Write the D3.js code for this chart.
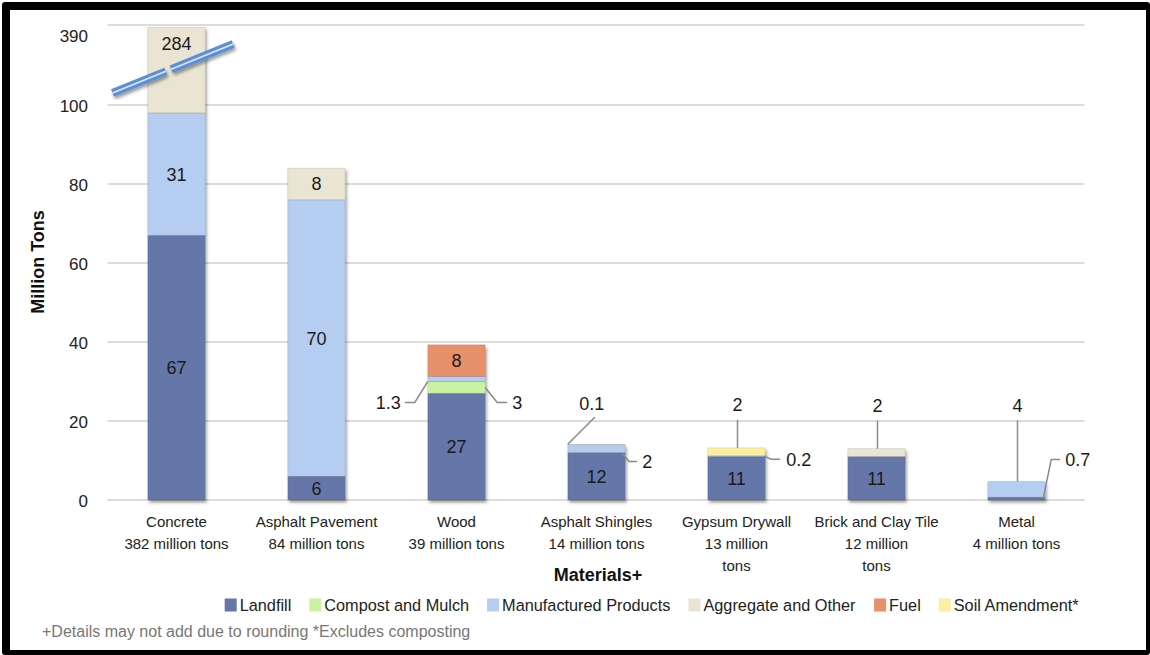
<!DOCTYPE html>
<html>
<head>
<meta charset="utf-8">
<script src="https://cdn.jsdelivr.net/npm/d3@7/dist/d3.min.js"></script>
<style>
  html, body { margin: 0; padding: 0; background: #fff; }
  svg { display: block; font-family: "Liberation Sans", Arial, sans-serif; }
</style>
</head>
<body>
<svg id="chart" width="1150" height="655"></svg>
<script>
// C&D debris next use, by material (million tons)
const categories = ["Concrete", "Asphalt Pavement", "Wood", "Asphalt Shingles",
                    "Gypsum Drywall", "Brick and Clay Tile", "Metal"];
const categoryLines = [
  ["Concrete", "382 million tons"],
  ["Asphalt Pavement", "84 million tons"],
  ["Wood", "39 million tons"],
  ["Asphalt Shingles", "14 million tons"],
  ["Gypsum Drywall", "13 million", "tons"],
  ["Brick and Clay Tile", "12 million", "tons"],
  ["Metal", "4 million tons"]
];
const seriesNames = ["Landfill", "Compost and Mulch", "Manufactured Products",
                     "Aggregate and Other", "Fuel", "Soil Amendment*"];
const landfill     = [67, 6, 27, 12, 11, 11, 0.7];
const compost      = [0, 0, 3, 0, 0, 0, 0];
const manufactured = [31, 70, 1.3, 2, 0.2, 0, 4];
const aggregate    = [284, 8, 0, 0.1, 0, 2, 0];
const fuel         = [0, 0, 8, 0, 0, 0, 0];
const soil         = [0, 0, 0, 0, 2, 0, 0];
const yTicks = [0, 20, 40, 60, 80, 100, 390];

const seriesValues = [landfill, compost, manufactured, aggregate, fuel, soil];
const colors = ["#6576a9", "#c9f3a3", "#b4cdf1", "#eae5d3", "#e6916a", "#fcefa2"];

const rows = categories.map((c, i) => {
  const r = { category: c };
  seriesNames.forEach((s, j) => r[s] = seriesValues[j][i]);
  return r;
});

const svg = d3.select("#chart");

// frame
svg.append("rect").attr("x", 2).attr("y", 2).attr("width", 1148).attr("height", 653)
  .attr("rx", 3).attr("fill", "#000");
svg.append("rect").attr("x", 10).attr("y", 10).attr("width", 1136).attr("height", 640)
  .attr("fill", "#fff");

const defs = svg.append("defs");
defs.append("filter").attr("id", "shadow").attr("x", "-20%").attr("y", "-20%")
  .attr("width", "150%").attr("height", "150%")
  .append("feDropShadow").attr("dx", 1.5).attr("dy", 2.5).attr("stdDeviation", 1.6)
  .attr("flood-color", "#000").attr("flood-opacity", 0.38);

const plot = { left: 106.5, right: 1086.5 };

// broken value axis: 0–100 full scale, 100–390 compressed
const y = d3.scaleLinear().domain([0, 100, 390]).range([500, 105, 25]);
const x = d3.scaleBand().domain(categories).range([plot.left, plot.right])
  .paddingInner(0.59).paddingOuter(0.295);

// gridlines
svg.append("g").selectAll("line").data(yTicks).join("line")
  .attr("x1", plot.left + 1).attr("x2", plot.right - 2)
  .attr("y1", d => y(d)).attr("y2", d => y(d))
  .attr("stroke", "#dcdcdc").attr("stroke-width", 2);

// y axis labels
const yAxis = d3.axisLeft(y).tickValues(yTicks).tickSize(0).tickPadding(0)
  .tickFormat(d3.format("d"));
const yg = svg.append("g").attr("transform", "translate(88,0)").call(yAxis);
yg.select(".domain").remove();
yg.selectAll("text").attr("font-size", 17).attr("fill", "#222")
  .attr("font-family", "Liberation Sans, Arial, sans-serif")
  .attr("dy", d => d === 390 ? "0.95em" : "0.38em");

svg.append("text").attr("transform", "translate(44,262) rotate(-90)")
  .attr("text-anchor", "middle").attr("font-size", 18).attr("font-weight", "bold")
  .attr("fill", "#111").text("Million Tons");

// stacked bars
const stacked = d3.stack().keys(seriesNames)(rows);
const barGroups = svg.append("g").selectAll("g").data(categories).join("g")
  .attr("filter", "url(#shadow)");
barGroups.each(function (cat, ci) {
  const g = d3.select(this);
  stacked.forEach((layer, si) => {
    const d = layer[ci];
    if (d[1] - d[0] <= 0) return;
    g.append("rect")
      .attr("x", x(cat)).attr("width", x.bandwidth())
      .attr("y", y(d[1])).attr("height", y(d[0]) - y(d[1]))
      .attr("fill", colors[si])
      .attr("stroke", "rgba(0,0,0,0.12)").attr("stroke-width", 0.8);
  });
});

// axis break marker across the concrete bar
(function () {
  const x0 = plot.left + 6, y0 = y(100) - 12;
  const x1 = x(categories[0]) + x.bandwidth() + 28, y1 = y(100) - 61;
  const t = (x(categories[0]) + x.bandwidth() / 2 - x0 - 8) / (x1 - x0);
  const gap = 0.022;
  const segs = [[0, t - gap], [t + gap, 1]].map(([a, b]) => [
    [x0 + (x1 - x0) * a, y0 + (y1 - y0) * a],
    [x0 + (x1 - x0) * b, y0 + (y1 - y0) * b]
  ]);
  const bg = svg.append("g");
  segs.forEach(s => {
    bg.append("line").attr("x1", s[0][0]).attr("y1", s[0][1]).attr("x2", s[1][0]).attr("y2", s[1][1])
      .attr("stroke", "#5b8fd5").attr("stroke-width", 8).attr("filter", "url(#shadow)");
    bg.append("line").attr("x1", s[0][0]).attr("y1", s[0][1]).attr("x2", s[1][0]).attr("y2", s[1][1])
      .attr("stroke", "#dfe9f7").attr("stroke-width", 1.6);
  });
})();

// value labels inside large segments
const inside = svg.append("g").attr("font-size", 18).attr("fill", "#1a1a1a")
  .attr("text-anchor", "middle");
stacked.forEach((layer, si) => {
  layer.forEach((d, ci) => {
    const v = d[1] - d[0];
    if (v < 5) return;
    const cx = x(categories[ci]) + x.bandwidth() / 2;
    const cy = d[1] > 100 ? y(d[1]) + 16 : (y(d[0]) + y(d[1])) / 2;
    inside.append("text").attr("x", cx).attr("y", cy).attr("dy", "0.36em")
      .text(d3.format("~g")(Math.round(v * 10) / 10));
  });
});

// leader-line callouts for thin segments
const layerOf = name => stacked[seriesNames.indexOf(name)];
const callouts = [
  { cat: "Wood", key: "Manufactured Products", edge: "left", at: 0, pts: [[0, 0], [-13, 21], [-23, 21]], txt: [-27, 21], anchor: "end" },
  { cat: "Wood", key: "Compost and Mulch", edge: "right", at: 0.5, pts: [[0, 0], [12, 15], [22, 15]], txt: [27, 15], anchor: "start" },
  { cat: "Asphalt Shingles", key: "Aggregate and Other", edge: "left", at: 1, pts: [[0, 0], [27, -27]], txt: [24, -41], anchor: "middle" },
  { cat: "Asphalt Shingles", key: "Manufactured Products", edge: "right", at: 0, pts: [[-2, 2], [4, 9], [12, 9]], txt: [17, 9], anchor: "start" },
  { cat: "Gypsum Drywall", key: "Soil Amendment*", edge: "top", at: 1, pts: [[0, 0], [0, -28]], txt: [0, -43], anchor: "middle" },
  { cat: "Gypsum Drywall", key: "Manufactured Products", edge: "right", at: 0.5, pts: [[-1, 0], [6, 3], [15, 3]], txt: [21, 3], anchor: "start" },
  { cat: "Brick and Clay Tile", key: "Aggregate and Other", edge: "top", at: 1, pts: [[0, 0], [0, -28]], txt: [0, -43], anchor: "middle" },
  { cat: "Metal", key: "Manufactured Products", edge: "top", at: 1, pts: [[0, 0], [0, -61]], txt: [0, -76], anchor: "middle" },
  { cat: "Metal", key: "Landfill", edge: "right", at: 0.5, pts: [[-2, 0], [6, -39], [15, -39]], txt: [20, -39], anchor: "start" }
];
const cg = svg.append("g");
callouts.forEach(c => {
  const ci = categories.indexOf(c.cat);
  const d = layerOf(c.key)[ci];
  const v = d[1] - d[0];
  const yy = y(d[0] + (d[1] - d[0]) * c.at);
  const left = x(c.cat), right = left + x.bandwidth();
  const ax = c.edge === "left" ? left : c.edge === "right" ? right : (left + right) / 2 + 1;
  cg.append("polyline")
    .attr("points", c.pts.map(p => [ax + p[0], yy + p[1]].join(",")).join(" "))
    .attr("fill", "none").attr("stroke", "#8a8a8a").attr("stroke-width", 1.5);
  cg.append("text").attr("x", ax + c.txt[0]).attr("y", yy + c.txt[1]).attr("dy", "0.36em")
    .attr("text-anchor", c.anchor).attr("font-size", 18).attr("fill", "#1a1a1a")
    .text(d3.format("~g")(v));
});

// category labels
const cl = svg.append("g").attr("font-size", 15).attr("fill", "#222").attr("text-anchor", "middle");
categories.forEach((c, i) => {
  const t = cl.append("text").attr("x", x(c) + x.bandwidth() / 2).attr("y", 527);
  categoryLines[i].forEach((line, k) => {
    t.append("tspan").attr("x", x(c) + x.bandwidth() / 2).attr("dy", k === 0 ? 0 : 22).text(line);
  });
});

svg.append("text").attr("x", 598).attr("y", 581).attr("text-anchor", "middle")
  .attr("font-size", 18).attr("font-weight", "bold").attr("fill", "#111").text("Materials+");

// legend
const lg = svg.append("g").attr("transform", "translate(0,605)");
const items = lg.selectAll("g").data(seriesNames).join("g");
items.append("rect").attr("y", -6.5).attr("width", 12).attr("height", 13)
  .attr("fill", (d, i) => colors[i]);
items.append("text").attr("x", 15).attr("dy", "0.36em").attr("font-size", 16.3)
  .attr("fill", "#222").text(d => d);
const widths = [];
items.each(function () { widths.push(this.getBBox().width); });
const gap = 18;
const total = d3.sum(widths) + gap * (widths.length - 1);
let cursor = 652 - total / 2;
items.attr("transform", (d, i) => {
  const tx = cursor;
  cursor += widths[i] + gap;
  return `translate(${tx},0)`;
});

svg.append("text").attr("x", 42).attr("y", 637).attr("font-size", 16).attr("fill", "#777")
  .text("+Details may not add due to rounding *Excludes composting");
</script>
</body>
</html>
